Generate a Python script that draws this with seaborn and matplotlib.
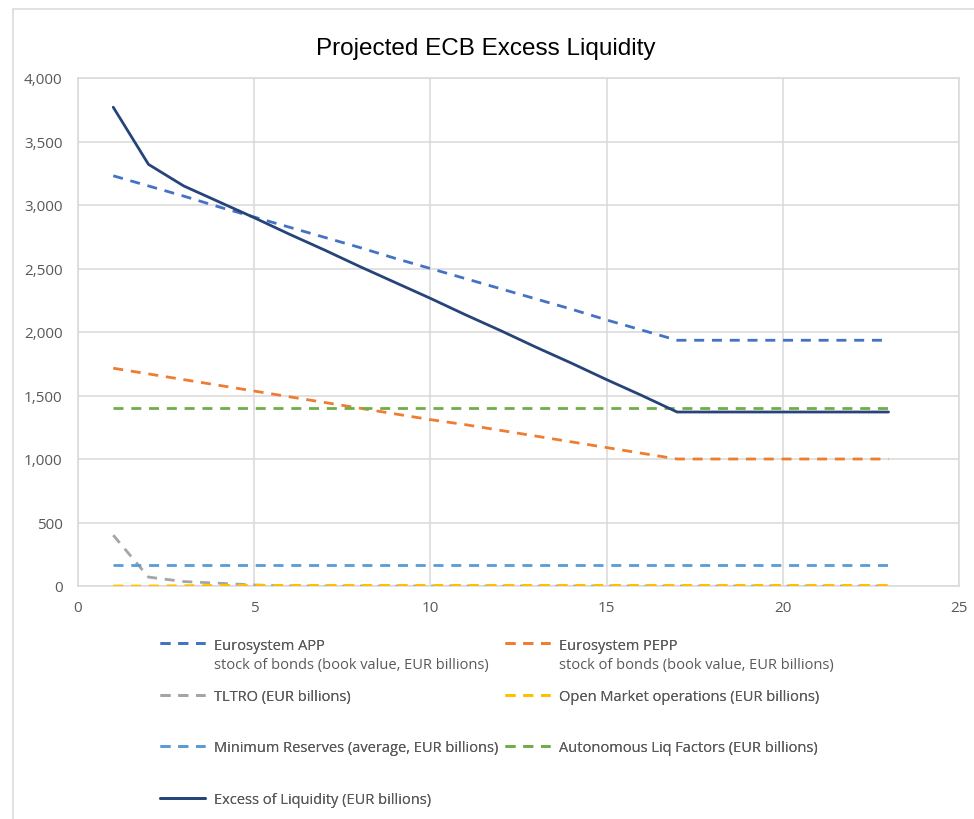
import matplotlib
matplotlib.use("Agg")
import matplotlib.pyplot as plt
from matplotlib.lines import Line2D
import seaborn as sns
import pandas as pd

# ---- data ----
periods = list(range(1, 24))
app = [3230, 3150, 3070, 2985, 2905, 2825, 2745, 2665, 2580, 2500, 2420, 2340,
       2260, 2180, 2095, 2015, 1935, 1935, 1935, 1935, 1935, 1935, 1935]
pepp = [1715, 1670, 1625, 1580, 1535, 1490, 1445, 1400, 1355, 1310, 1270, 1225,
        1180, 1135, 1090, 1045, 1000, 1000, 1000, 1000, 1000, 1000, 1000]
tltro = [400, 70, 35, 22, 8, 0, 0, 0, 0, 0, 0, 0,
         0, 0, 0, 0, 0, 0, 0, 0, 0, 0, 0]
omo = [0, 0, 2, 5, 5, 5, 5, 5, 5, 5, 5, 5,
       5, 5, 5, 5, 5, 5, 5, 5, 5, 5, 5]
min_res = [165] * 23
auton = [1400] * 23
excess = [3770, 3320, 3150, 3025, 2900, 2770, 2645, 2515, 2390, 2265, 2135, 2010,
          1880, 1755, 1625, 1500, 1370, 1370, 1370, 1370, 1370, 1370, 1370]

labels = [
    "Eurosystem APP",
    "Eurosystem PEPP",
    "TLTRO (EUR billions)",
    "Open Market operations (EUR billions)",
    "Minimum Reserves (average, EUR billions)",
    "Autonomous Liq Factors (EUR billions)",
    "Excess of Liquidity (EUR billions)",
]
sublabels = [
    "stock of bonds (book value, EUR billions)",
    "stock of bonds (book value, EUR billions)",
    "", "", "", "", "",
]
series = [app, pepp, tltro, omo, min_res, auton, excess]
colors = ["#4472C4", "#ED7D31", "#A5A5A5", "#FFC000", "#5B9BD5", "#70AD47", "#264478"]
dashed = [True, True, True, True, True, True, False]

sns.set_theme(style="white")
plt.rcParams["font.family"] = ["Liberation Sans", "DejaVu Sans"]
LEGFONT = ["Open Sans", "DejaVu Sans"]
GRAY = "#595959"

fig = plt.figure(figsize=(9.74, 8.2), dpi=100)
ax = fig.add_axes([78 / 974, 1 - 587 / 820, (959 - 78) / 974, (587 - 79) / 820])

LW = 2.0
DASH = (3.6, 2.8)
handles = []
for lab, vals, col, d in zip(labels, series, colors, dashed):
    df = pd.DataFrame({"x": periods, "y": vals})
    sns.lineplot(data=df, x="x", y="y", ax=ax, color=col, linewidth=LW,
                 legend=False, zorder=3)
    line = ax.get_lines()[-1]
    if d:
        line.set_dashes(DASH)
    h = Line2D([], [], color=col, linewidth=LW)
    if d:
        h.set_dashes(DASH)
    handles.append(h)

ax.set_xlim(0, 25)
ax.set_ylim(0, 4000)
ax.set_xticks([0, 5, 10, 15, 20, 25])
ax.set_yticks(range(0, 4001, 500))
ax.set_yticklabels([f"{v:,}" for v in range(0, 4001, 500)])
ax.grid(True, color="#D9D9D9", linewidth=1.1, zorder=0)
ax.set_axisbelow(True)
for s in ax.spines.values():
    s.set_color("#D9D9D9")
    s.set_linewidth(1.1)
ax.set_xlabel("")
ax.set_ylabel("")
ax.tick_params(axis="both", length=0, labelsize=11, labelcolor=GRAY)
ax.tick_params(axis="y", pad=11)
ax.tick_params(axis="x", pad=10)
for t in ax.get_xticklabels() + ax.get_yticklabels():
    t.set_family(LEGFONT)

fig.text(486 / 974, 1 - 49 / 820, "Projected ECB Excess Liquidity",
         ha="center", va="center", fontsize=17.5, color="black")

# legend entries placed individually to mimic the Excel layout
positions = [(160, 646), (505, 646), (160, 698), (505, 698),
             (160, 749), (505, 749), (160, 801)]
for h, lab, sub, (px, py) in zip(handles, labels, sublabels, positions):
    leg = fig.legend([h], [lab], loc="center left",
                     bbox_to_anchor=(px / 974, 1 - py / 820),
                     frameon=False, borderpad=0, borderaxespad=0,
                     handlelength=3.1, handletextpad=0.6,
                     prop={"family": LEGFONT, "size": 10.5},
                     labelcolor=GRAY)
    fig.add_artist(leg)
    if sub:
        fig.text((px + 54) / 974, 1 - (py + 20) / 820, sub, ha="left",
                 va="center", fontsize=10.5, color=GRAY, family=LEGFONT)

# chart area border (as in reference)
fig.add_artist(Line2D([13 / 974, 13 / 974], [0, 1 - 10 / 820],
                      transform=fig.transFigure, color="#D9D9D9", linewidth=1.1))
fig.add_artist(Line2D([13 / 974, 1], [1 - 10 / 820, 1 - 10 / 820],
                      transform=fig.transFigure, color="#D9D9D9", linewidth=1.1))

fig.savefig("out.png", dpi=100, facecolor="white")
